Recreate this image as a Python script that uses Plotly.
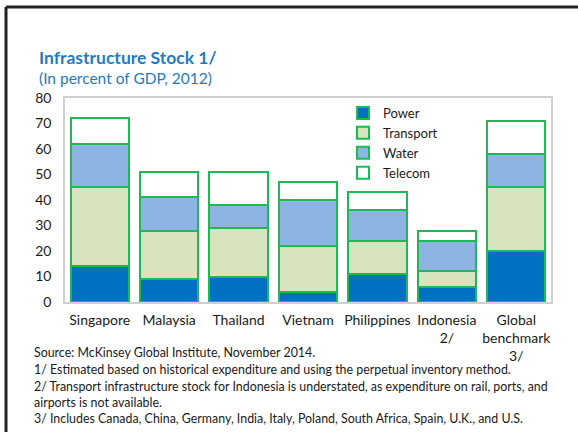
import plotly.graph_objects as go

countries = ["Singapore", "Malaysia", "Thailand", "Vietnam", "Philippines",
             "Indonesia<br>2/", "Global<br>benchmark<br>3/"]
power = [14, 9, 10, 4, 11, 6, 20]
transport = [31, 19, 19, 18, 13, 6, 25]
water = [17, 13, 9, 18, 12, 12, 13]
telecom = [10, 10, 13, 7, 7, 4, 13]

notes = [
    "Source: McKinsey Global Institute, November 2014.",
    "1/ Estimated based on historical expenditure and using the perpetual inventory method.",
    "2/ Transport infrastructure stock for Indonesia is understated, as expenditure on rail, ports, and",
    "airports is not available.",
    "3/ Includes Canada, China, Germany, India, Italy, Poland, South Africa, Spain, U.K., and U.S.",
]

series = [("Power", power, "#0070C0"),
          ("Transport", transport, "#D7E4BD"),
          ("Water", water, "#8EB4E3"),
          ("Telecom", telecom, "#FFFFFF")]

edge = "#1DB954"
blue = "#1F7BC1"
font = "Lato"

# plot area in page pixels
L, R, T, B = 65, 551, 98, 302
W, H = R - L, B - T

def px(x):
    return (x - L) / W

def py(y):
    return (B - y) / H

fig = go.Figure()
for name, vals, col in series:
    fig.add_trace(go.Bar(x=countries, y=vals, name=name,
                         marker=dict(color=col, line=dict(color=edge, width=2))))

fig.update_layout(
    width=578, height=432,
    margin=dict(l=L, r=578 - R, t=T, b=432 - B),
    barmode="stack", bargap=0.16,
    plot_bgcolor="white", paper_bgcolor="white",
    font=dict(family=font, size=14, color="#1a1a1a"),
    showlegend=True,
    legend=dict(x=px(343), y=py(98), xanchor="left", yanchor="top",
                traceorder="normal", bgcolor="rgba(0,0,0,0)",
                font=dict(size=13), itemwidth=30, tracegroupgap=0),
)
fig.update_yaxes(range=[0, 80], dtick=10, showgrid=False, zeroline=False,
                 showline=True, linecolor="#D0D0D0", linewidth=1.5, mirror=True,
                 ticks="", ticklabelstandoff=9)
fig.update_xaxes(showgrid=False, showline=True, linecolor="#D0D0D0", linewidth=1.5,
                 mirror=True, ticks="", ticklabelstandoff=4)

# plot titles
fig.add_annotation(text="<b>Infrastructure Stock 1/</b>", xref="paper", yref="paper",
                   x=px(37), y=py(57), xanchor="left", yanchor="middle", showarrow=False,
                   font=dict(size=17.5, color=blue, family=font))
fig.add_annotation(text="(In percent of GDP, 2012)", xref="paper", yref="paper",
                   x=px(37), y=py(78), xanchor="left", yanchor="middle", showarrow=False,
                   font=dict(size=15.5, color=blue, family=font))

# footnotes
note_y = [352, 369, 386, 402, 418]
for txt, ny in zip(notes, note_y):
    fig.add_annotation(text=txt, xref="paper", yref="paper",
                       x=px(32), y=py(ny),
                       xanchor="left", yanchor="middle", showarrow=False,
                       font=dict(size=12.4, color="#1a1a1a", family=font))

# outer black frame (top and left)
fig.add_shape(type="line", xref="paper", yref="paper", x0=px(6), x1=px(580),
              y0=py(7), y1=py(7), line=dict(color="#222222", width=3))
fig.add_shape(type="line", xref="paper", yref="paper", x0=px(6), x1=px(6),
              y0=py(7), y1=py(434), line=dict(color="#222222", width=3))

fig.write_html("out.html", config={"displayModeBar": False},
               post_script="document.body.style.margin='0';")
